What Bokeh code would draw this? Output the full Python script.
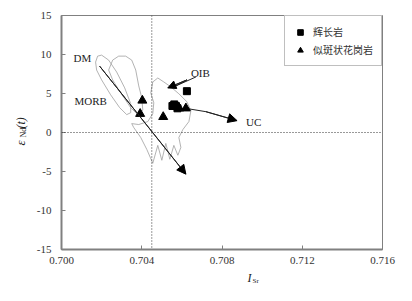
import math
from bokeh.plotting import figure
from bokeh.layouts import row, column
from bokeh.models import (Span, Arrow, NormalHead, Label, Range1d, FixedTicker, Legend, LegendItem,
                          PrintfTickFormatter)
from bokeh.embed import file_html
from bokeh.resources import INLINE

# ---- data ----
gab_x = [0.70625, 0.70562, 0.7057, 0.70553, 0.70578]
gab_y = [5.3, 3.6, 3.4, 3.4, 3.1]
gra_x = [0.70403, 0.70392, 0.70507, 0.7062, 0.70587]
gra_y = [4.1, 2.4, 2.0, 3.1, 3.1]

x_ticks = [0.700, 0.704, 0.708, 0.712, 0.716]
y_ticks = [-15, -10, -5, 0, 5, 10, 15]

# field outlines
ell1_x = [0.7017, 0.7018, 0.7020, 0.70235, 0.70275, 0.70315, 0.70345, 0.70345, 0.70325, 0.7029, 0.70245, 0.7020, 0.70175, 0.7017]
ell1_y = [9.03, 9.79, 9.92, 9.28, 7.75, 5.72, 3.69, 2.54, 2.29, 3.18, 4.83, 6.74, 8.01, 9.03]
lobe2_x = [0.70235, 0.70255, 0.70285, 0.7032, 0.7035, 0.7037, 0.70385, 0.704, 0.70405, 0.70385, 0.70345, 0.70295, 0.70255, 0.70235]
lobe2_y = [8.01, 9.28, 9.79, 9.79, 9.28, 8.01, 5.97, 4.45, 2.92, 2.16, 3.18, 5.08, 6.74, 8.01]
field_x = [0.70445, 0.70455, 0.7048, 0.7051, 0.70545, 0.70585, 0.70625, 0.70645, 0.70635, 0.70605,
           0.70585, 0.70595, 0.7058, 0.7056, 0.7054, 0.7052, 0.7050, 0.7048, 0.70455, 0.70425,
           0.70395, 0.7036, 0.7035, 0.70385, 0.7043, 0.70455, 0.7046, 0.70445]
field_y = [5.08, 6.48, 6.99, 6.48, 5.85, 4.96, 3.94, 2.80, 1.40, 0.38,
           -0.64, -1.91, -2.92, -1.65, -3.43, -1.40, -3.56, -1.65, -3.94, -2.16,
           -0.64, 0.64, 1.14, 1.02, 1.40, 2.42, 3.81, 5.08]

# trend arrows
dm_x = [0.7019, 0.7062]
dm_y = [8.51, -5.34]
uc_x = [0.7063, 0.7072, 0.70875]
uc_y = [3.05, 2.67, 1.52]
oib_x = [0.70670, 0.70570, 0.70625, 0.70530]
oib_y = [7.12, 5.97, 6.74, 5.72]

isr_ref = 0.7045
end_ref = 0

SERIF = "Liberation Serif"
CJK = "Noto Sans CJK SC"
TXT = "#222222"

p = figure(width=366, height=269, output_backend="svg", toolbar_location=None,
           x_range=Range1d(0.700, 0.716), y_range=Range1d(-15, 15),
           min_border_left=31, min_border_right=14, min_border_top=15, min_border_bottom=20)
p.grid.visible = False
p.outline_line_color = "#808080"
p.outline_line_width = 1
p.background_fill_color = "white"
p.border_fill_color = "white"

for ax in (p.xaxis[0], p.yaxis[0]):
    ax.axis_line_color = "#808080"
    ax.axis_line_width = 2
    ax.major_tick_line_color = "#808080"
    ax.major_tick_in = 4
    ax.major_tick_out = 0
    ax.minor_tick_line_color = None
    ax.major_label_text_font = SERIF
    ax.major_label_text_font_size = "11px"
    ax.major_label_text_color = "#333333"

p.xaxis[0].ticker = FixedTicker(ticks=x_ticks)
p.xaxis[0].formatter = PrintfTickFormatter(format="%.3f")
p.xaxis[0].major_label_standoff = 7
p.yaxis[0].ticker = FixedTicker(ticks=y_ticks)
p.yaxis[0].formatter = PrintfTickFormatter(format="%d")
p.yaxis[0].major_label_standoff = 10

# reference lines (dotted)
p.add_layout(Span(location=end_ref, dimension="width", line_color="#333333", line_dash="1 2", line_width=1))
p.add_layout(Span(location=isr_ref, dimension="height", line_color="#333333", line_dash="1 2", line_width=1))

# fields
for xs, ys in ((ell1_x, ell1_y), (lobe2_x, lobe2_y), (field_x, field_y)):
    p.line(xs, ys, line_color="#a0a0a0", line_width=0.8)

# arrows
def arrow(xs, ys, size):
    p.line(xs, ys, line_color=TXT, line_width=1)
    p.add_layout(Arrow(end=NormalHead(size=size, fill_color="black", line_color="black"),
                       x_start=xs[-2], y_start=ys[-2], x_end=xs[-1], y_end=ys[-1],
                       line_color=TXT, line_width=1))

arrow(dm_x, dm_y, 9)
arrow(uc_x, uc_y, 9)
arrow(oib_x, oib_y, 8)

# points
r_gab = p.scatter(gab_x, gab_y, marker="square", size=7, fill_color="black", line_color="black")
r_gra = p.scatter(gra_x, gra_y, marker="triangle", size=9, fill_color="black", line_color="black")

# labels
def lab(fig, x, y, t, size="11px", style="normal", angle=0, units="data"):
    fig.add_layout(Label(x=x, y=y, x_units=units, y_units=units, text=t, text_font=SERIF,
                         text_font_size=size, text_align="left", text_baseline="middle",
                         text_font_style=style, text_color=TXT, angle=angle))

lab(p, 0.7006, 9.5, "DM")
lab(p, 0.70065, 4.07, "MORB")
lab(p, 0.70645, 7.6, "OIB")
lab(p, 0.7092, 1.4, "UC")

legend = Legend(items=[LegendItem(label="辉长岩", renderers=[r_gab]),
                       LegendItem(label="似斑状花岗岩", renderers=[r_gra])],
                location="top_right", margin=0, padding=8, spacing=3,
                glyph_width=14, glyph_height=14, label_standoff=6,
                label_text_font=CJK, label_text_font_size="10px", label_text_color="#333333",
                border_line_color="#808080", border_line_width=1, background_fill_alpha=1)
p.add_layout(legend)

# strips holding the axis titles (so subscripts are real text)
def strip(w, h):
    f = figure(width=w, height=h, output_backend="svg", toolbar_location=None,
               x_axis_type=None, y_axis_type=None, x_range=Range1d(0, w), y_range=Range1d(0, h),
               min_border=0, min_border_left=0, min_border_right=0, min_border_top=0, min_border_bottom=0)
    f.grid.visible = False
    f.outline_line_color = None
    f.background_fill_color = "white"
    f.border_fill_color = "white"
    return f

yfig = strip(30, 285)
lab(yfig, 20, 140, "ε", size="13px", style="italic", angle=math.pi / 2, units="screen")
lab(yfig, 23, 148, "Nd", size="8px", angle=math.pi / 2, units="screen")
lab(yfig, 20, 157, "(t)", size="12px", style="italic", angle=math.pi / 2, units="screen")

xfig = strip(366, 16)
lab(xfig, 186, 8, "I", size="12px", style="italic", units="screen")
lab(xfig, 191, 5, "Sr", size="7px", units="screen")

layout = row(yfig, column(p, xfig, spacing=0), spacing=0)
open("out.html", "w").write(file_html(layout, INLINE))
